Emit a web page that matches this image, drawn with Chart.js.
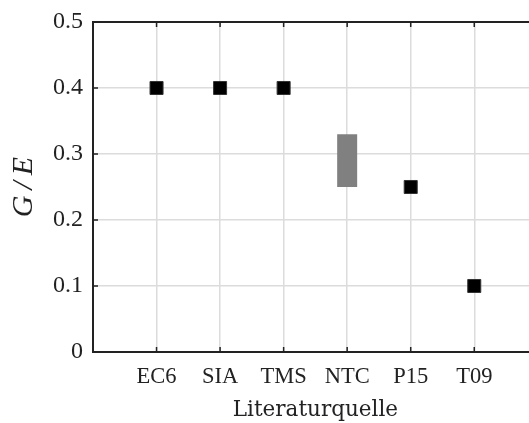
<!DOCTYPE html>
<html>
<head>
<meta charset="utf-8">
<script src="https://cdn.jsdelivr.net/npm/chart.js@4"></script>
<style>
  html, body { margin: 0; padding: 0; background: #fff; overflow: hidden; }
  #wrap { width: 529px; height: 423px; overflow: hidden; }
  #wrap div { width: 548px; height: 423px; }
</style>
</head>
<body>
<div id="wrap"><div><canvas id="grafico"></canvas></div></div>
<script>
const quellen = ["EC6", "SIA", "TMS", "NTC", "P15", "T09"];
const punktX = [1, 2, 3, 5, 6];
const punktGE = [0.4, 0.4, 0.4, 0.25, 0.1];
const bereichX = 4;
const bereichGE = [0.25, 0.33];
const yTicks = [0, 0.1, 0.2, 0.3, 0.4, 0.5];

const schrift = "'Liberation Serif', 'DejaVu Serif', serif";
const titelSchrift = "'DejaVu Serif', serif";

// ticks nach innen + obere Linie
const rahmen = {
  id: "rahmen",
  afterDraw(chart) {
    const c = chart.ctx, a = chart.chartArea;
    const x = chart.scales.x, y = chart.scales.y;
    c.save();
    c.strokeStyle = "#222";
    c.lineWidth = 2;
    c.beginPath();
    c.moveTo(a.left - 1, a.top);
    c.lineTo(a.right + 10, a.top);
    c.stroke();
    c.lineWidth = 1.5;
    c.beginPath();
    quellen.forEach((q, i) => {
      const px = x.getPixelForValue(i + 1);
      c.moveTo(px, a.bottom); c.lineTo(px, a.bottom - 5);
      c.moveTo(px, a.top); c.lineTo(px, a.top + 5);
    });
    yTicks.forEach(v => {
      const py = y.getPixelForValue(v);
      c.moveTo(a.left, py); c.lineTo(a.left + 5, py);
    });
    c.stroke();
    c.restore();
  }
};

const ctx = document.getElementById("grafico").getContext("2d");
new Chart(ctx, {
  type: "scatter",
  data: {
    datasets: [
      {
        type: "line",
        data: bereichGE.map(v => ({ x: bereichX, y: v })),
        borderColor: "#808080",
        borderWidth: 20,
        borderCapStyle: "butt",
        pointRadius: 0
      },
      {
        data: punktX.map((x, i) => ({ x: x, y: punktGE[i] })),
        pointStyle: "rect",
        pointRadius: 9.2,
        pointHoverRadius: 9.2,
        backgroundColor: "#000",
        borderColor: "#333",
        borderWidth: 1
      }
    ]
  },
  options: {
    responsive: true,
    maintainAspectRatio: false,
    animation: false,
    layout: { padding: { top: 22, right: 8, left: 0, bottom: 0 } },
    plugins: { legend: { display: false }, tooltip: { enabled: false } },
    scales: {
      x: {
        type: "linear",
        min: 0,
        max: 7,
        afterBuildTicks: s => { s.ticks = quellen.map((q, i) => ({ value: i + 1 })); },
        ticks: {
          callback: v => quellen[v - 1],
          font: { family: schrift, size: 22.5 },
          color: "#222",
          padding: 12,
          maxRotation: 0,
          autoSkip: false
        },
        grid: { color: "#dcdcdc", lineWidth: 1.5, drawTicks: false },
        border: { color: "#222", width: 2 },
        title: {
          display: true,
          text: "Literaturquelle",
          font: { family: titelSchrift, size: 21.5 },
          color: "#222",
          padding: { top: 0, bottom: 0 }
        },
        afterFit: s => { s.height = 71; s.paddingLeft = 0; s.paddingRight = 0; }
      },
      y: {
        min: 0,
        max: 0.5,
        afterBuildTicks: s => { s.ticks = yTicks.map(v => ({ value: v })); },
        ticks: {
          callback: v => v === 0 ? "0" : v.toFixed(1),
          font: { family: schrift, size: 24 },
          color: "#222",
          padding: 10
        },
        grid: { color: "#dcdcdc", lineWidth: 1.5, drawTicks: false },
        border: { color: "#222", width: 2 },
        title: {
          display: true,
          text: "G\u2009/\u2009E",
          font: { family: "'Liberation Serif', serif", size: 30, style: "italic" },
          color: "#222",
          padding: { top: 6, bottom: 0 }
        },
        afterFit: s => { s.width = 93; s.paddingTop = 0; s.paddingBottom = 0; }
      }
    }
  },
  plugins: [rahmen]
});
</script>
</body>
</html>
